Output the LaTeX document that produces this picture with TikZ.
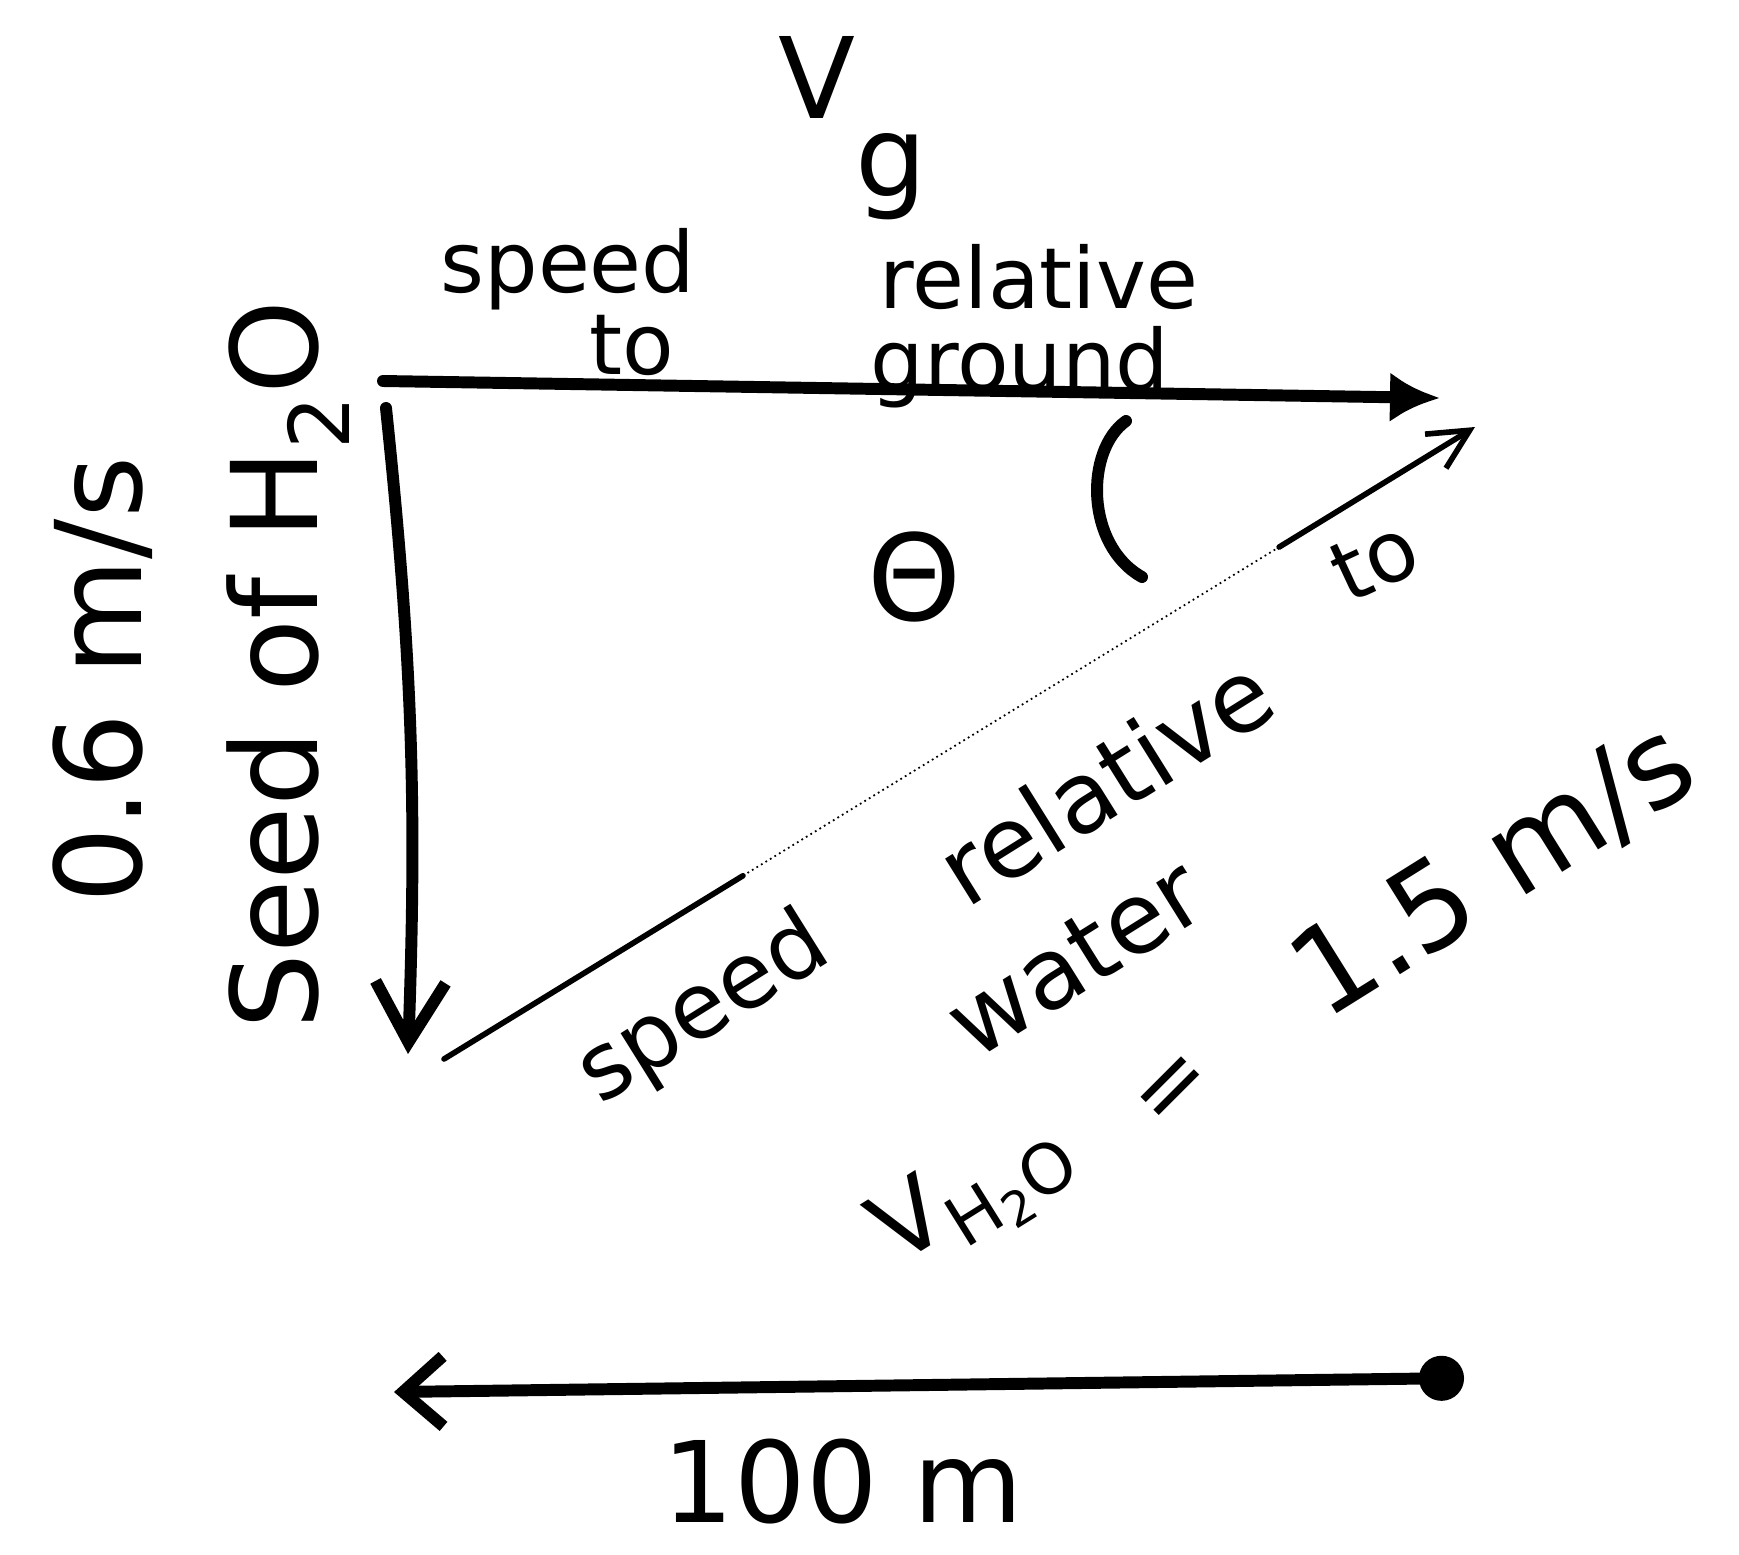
\documentclass[tikz,border=0pt]{standalone}
\usepackage{fontspec}
\setmainfont{DejaVu Sans}
\usetikzlibrary{arrows.meta,calc}

\tikzset{
  hand/.style={font=\fontsize{26}{30}\selectfont, inner sep=0pt},
  handbig/.style={font=\fontsize{32}{36}\selectfont, inner sep=0pt},
  heavy/.style={line width=3.4pt, line cap=round},
  light/.style={line width=1.6pt, line cap=round},
}

\begin{document}
\begin{tikzpicture}[x=0.01cm,y=-0.01cm]
  \useasboundingbox (0,0) rectangle (1739,1554);

  % triangle corners
  \coordinate (corner) at (383,381);
  \coordinate (gtip) at (1440,398);
  \coordinate (vtop) at (386,408);
  \coordinate (vtip) at (408,1054);
  \coordinate (wstart) at (444,1059);
  \coordinate (wtip) at (1475,427);

  % speed relative to ground
  \draw[heavy,-{Latex[length=5mm,width=5mm]}] (corner) -- (gtip);
  % speed of water
  \draw[heavy,-{Straight Barb[length=6mm,width=7mm]}] (vtop) to[bend left=4] (vtip);
  % speed relative to water (faint in the middle)
  \coordinate (wa) at ($(wstart)!0.29!(wtip)$);
  \coordinate (wb) at ($(wstart)!0.81!(wtip)$);
  \draw[light] (wstart) -- (wa);
  \draw[line width=0.5pt,densely dotted] (wa) -- (wb);
  \draw[light,-{Straight Barb[length=4mm,width=4mm]}] (wb) -- (wtip);

  % angle
  \coordinate (arcA) at (1126,421);
  \coordinate (arcB) at (1142,577);
  \draw[heavy] (arcA) .. controls (1085,450) and (1085,545) .. (arcB);
  \node[handbig,font=\fontsize{34}{38}\selectfont] (theta) at (915,577) {Θ};

  % labels
  \node[handbig,anchor=base west] (vg) at (778,118) {V\raisebox{-0.7em}{g}};
  \node[hand,font=\fontsize{24}{28}\selectfont,anchor=base] (spd1) at (568,292) {speed};
  \node[hand,font=\fontsize{24}{28}\selectfont,anchor=base] (rel1) at (1039,308) {relative};
  \node[hand,font=\fontsize{24}{28}\selectfont,anchor=base] (to1) at (632,374) {to};
  \node[hand,font=\fontsize{24}{28}\selectfont,anchor=base] (gnd) at (1020,390) {ground};

  \node[handbig,font=\fontsize{34}{38}\selectfont,rotate=90] (wval) at (103,680) {0.6 m/s};
  \node[handbig,font=\fontsize{34}{38}\selectfont,rotate=90] (wname) at (288,665) {Seed of H\textsubscript{2}O};

  \node[hand,rotate=32] (spd2) at (704,1011) {speed};
  \node[hand,font=\fontsize{28}{32}\selectfont,rotate=32] (rel2) at (1105,780) {relative};
  \node[hand,font=\fontsize{24}{28}\selectfont,rotate=25] (to2) at (1375,560) {to};
  \node[hand,font=\fontsize{28}{32}\selectfont,rotate=32] (wat) at (1075,958) {water};
  \node[hand,font=\fontsize{28}{32}\selectfont,rotate=32] (vwat) at (975,1195) {V\textsubscript{H\textsubscript{2}O}};
  \node[hand,rotate=45] (eq) at (1176,1092) {=};
  \node[handbig,font=\fontsize{34}{38}\selectfont,rotate=32] (wval2) at (1494,871) {1.5 m/s};

  % distance
  \coordinate (dright) at (1464,1378);
  \coordinate (dleft) at (394,1392);
  \draw[heavy,{Circle[length=4.5mm]}-{Straight Barb[length=4mm,width=7mm]}] (dright) -- (dleft);
  \node[handbig,anchor=base] (dist) at (843,1522) {100 m};

\end{tikzpicture}
\end{document}
